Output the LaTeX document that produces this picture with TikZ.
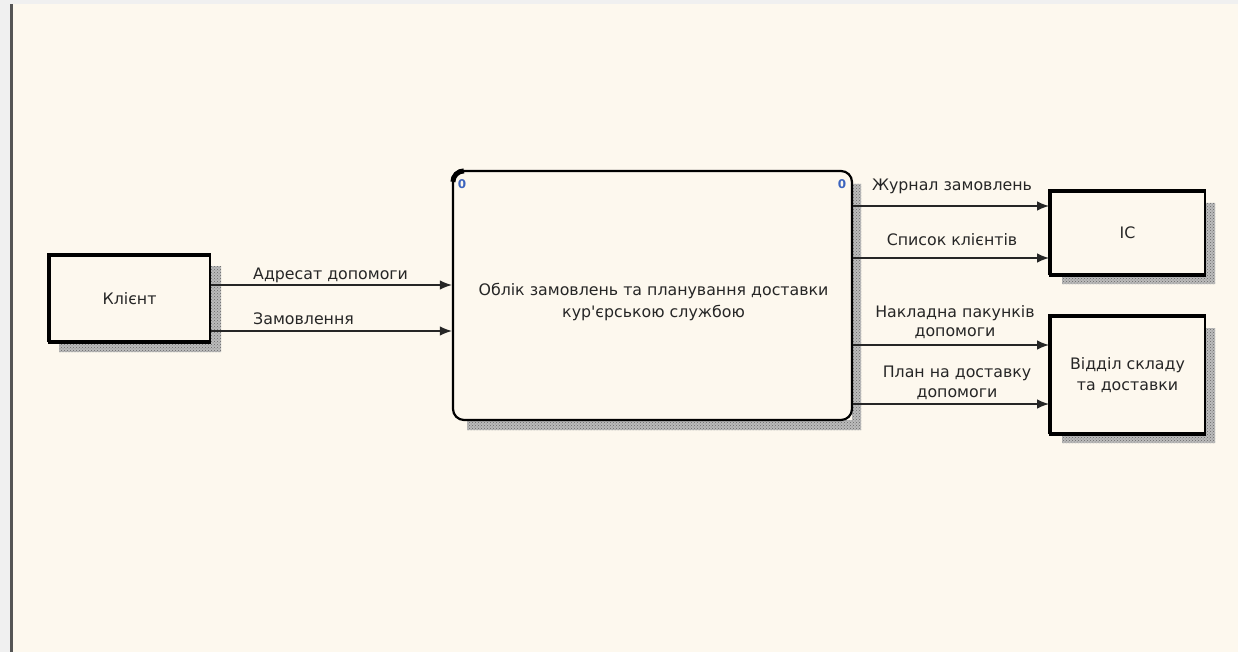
\documentclass[tikz,border=0pt]{standalone}
\usepackage{fontspec}
\setmainfont{DejaVu Sans}
\newfontfamily\rawfont{DejaVu Sans}[Ligatures=TeXOff]
\usetikzlibrary{arrows.meta,patterns,calc}
\definecolor{paper}{RGB}{253,248,238}
\definecolor{frameleft}{RGB}{240,240,240}
\definecolor{edge}{RGB}{85,85,85}
\definecolor{shade}{RGB}{150,150,150}
\definecolor{tagblue}{RGB}{60,100,190}
\tikzset{
  lbl/.style={font=\fontsize{15.8}{18}\selectfont, text=black!85, inner sep=0pt},
  entity/.style={draw=black, line width=2pt, fill=paper, minimum width=155pt, inner sep=0pt,
    font=\fontsize{15.8}{21}\selectfont, text=black!85, align=center},
  flow/.style={draw=black!85, line width=1.3pt, -{Latex[length=12pt,width=9.5pt]}},
  tag/.style={font=\fontsize{12}{13}\selectfont\bfseries, text=tagblue, inner sep=0pt},
  shadowarea/.style={fill=shade!65},
  shadowdots/.style={pattern=crosshatch dots, pattern color=black!60}
}
\begin{document}
\begin{tikzpicture}[x=1pt,y=-1pt]
% page and window frame
\useasboundingbox (0,0) rectangle (1238,652);
\fill[paper] (0,0) rectangle (1238,652);
\fill[frameleft] (0,0) rectangle (10,652);
\fill[frameleft] (0,0) rectangle (1238,4);
\fill[edge] (10,4) rectangle (12.5,652);

% drop shadows
\fill[shadowarea] (210,266) rectangle (221,352) (59,342) rectangle (221,352);
\fill[shadowdots] (210,266) rectangle (221,352) (59,342) rectangle (221,352);
\fill[shadowarea] (852,184) rectangle (861,430) (467,420) rectangle (861,430);
\fill[shadowdots] (852,184) rectangle (861,430) (467,420) rectangle (861,430);
\fill[shadowarea] (1205,203) rectangle (1215,284) (1062,274) rectangle (1215,284);
\fill[shadowdots] (1205,203) rectangle (1215,284) (1062,274) rectangle (1215,284);
\fill[shadowarea] (1205,328) rectangle (1215,443) (1062,433) rectangle (1215,443);
\fill[shadowdots] (1205,328) rectangle (1215,443) (1062,433) rectangle (1215,443);

% external entities
\node[entity, minimum width=161pt, minimum height=85pt] (klient) at (129.5,298.5) {Клієнт};
\node[entity, minimum height=82pt] (ic) at (1127.5,233) {IC};
\node[entity, minimum height=116pt] (viddil) at (1127.5,375) {Відділ складу\\ та доставки};
\draw[line width=4.5pt] ([xshift=1pt]klient.south west) -- ([xshift=1pt]klient.north west) -- (klient.north east);
\draw[line width=3pt] (klient.south west) -- (klient.south east);
\draw[line width=4pt] ([xshift=1pt]ic.south west) -- ([xshift=1pt]ic.north west) -- (ic.north east);
\draw[line width=3pt] (ic.south west) -- (ic.south east);
\draw[line width=4pt] ([xshift=1pt]viddil.south west) -- ([xshift=1pt]viddil.north west) -- (viddil.north east);
\draw[line width=3pt] (viddil.south west) -- (viddil.south east);

% process block
\node[draw=black, line width=2.2pt, rounded corners=11pt, fill=paper, minimum width=399pt,
  minimum height=249pt, inner sep=0pt] (proc) at (652.5,295.5) {};
\node[font=\fontsize{15.8}{22}\selectfont, text=black!85, align=center] (title) at (653.5,302)
  {Облік замовлень та планування доставки\\ кур{\rawfont'}єрською службою};
\draw[line width=5pt] ($(proc.north west)+(1,12)$) arc[start angle=180, end angle=270, radius=11];
\node[tag] (tagl) at (462,184) {0};
\node[tag] (tagr) at (842,184) {0};

% flows into the process
\coordinate (y1) at (0,285);
\coordinate (y2) at (0,331);
\draw[flow] (klient.east |- y1) -- (proc.west |- y1);
\draw[flow] (klient.east |- y2) -- (proc.west |- y2);
\node[lbl, anchor=west] (l1) at (253,275) {Адресат допомоги};
\node[lbl, anchor=west] (l2) at (253,319) {Замовлення};

% flows out of the process
\coordinate (y3) at (0,206);
\coordinate (y4) at (0,258);
\coordinate (y5) at (0,345);
\coordinate (y6) at (0,404);
\draw[flow] (proc.east |- y3) -- (ic.west |- y3);
\draw[flow] (proc.east |- y4) -- (ic.west |- y4);
\draw[flow] (proc.east |- y5) -- (viddil.west |- y5);
\draw[flow] (proc.east |- y6) -- (viddil.west |- y6);
\node[lbl] (l3) at (952,186) {Журнал замовлень};
\node[lbl] (l4) at (952,240) {Список клієнтів};
\node[lbl, align=center, font=\fontsize{15.8}{19}\selectfont] (l5) at (955,322) {Накладна пакунків\\допомоги};
\node[lbl, align=center, font=\fontsize{15.8}{20}\selectfont] (l6) at (957,383) {План на доставку\\допомоги};
\end{tikzpicture}
\end{document}
